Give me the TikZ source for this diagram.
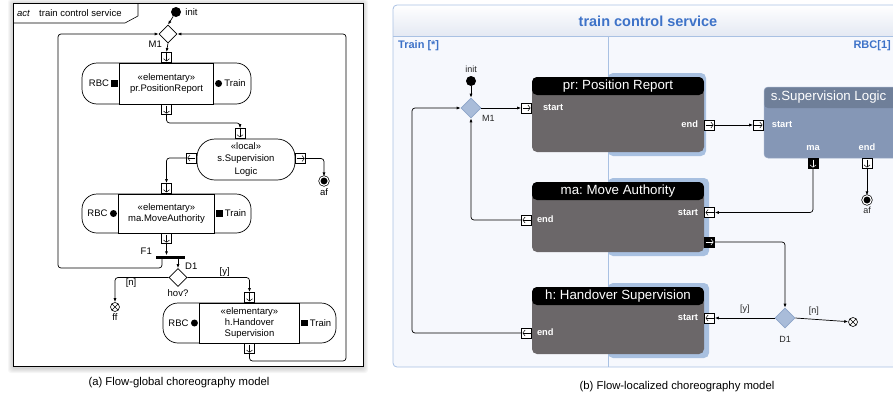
\documentclass[tikz,border=0pt]{standalone}
\usepackage{fontspec}
\setmainfont{Liberation Sans}
\frenchspacing
\usetikzlibrary{positioning,shapes.geometric,arrows.meta}

\definecolor{laneline}{HTML}{A9C1E3}
\definecolor{lanefill}{HTML}{F6F8FD}
\definecolor{titleband}{HTML}{E4E9F3}
\definecolor{titleblue}{HTML}{3D72C8}
\definecolor{boxgrey}{HTML}{6B6769}
\definecolor{hilite}{HTML}{A8C0E0}
\definecolor{localbody}{HTML}{8597B6}
\definecolor{localtitle}{HTML}{6F7F99}
\definecolor{localedge}{HTML}{9DADC8}
\definecolor{mergefill}{HTML}{A9BCD9}
\definecolor{mergedraw}{HTML}{8DA4C8}

\tikzset{
  txt/.style={font=\fontsize{9.5}{11.5}\selectfont, inner sep=1pt, align=center},
  lbl/.style={font=\fontsize{9}{10}\selectfont, inner sep=1pt, text=black!85},
  wlbl/.style={font=\bfseries\fontsize{9.3}{10}\selectfont, inner sep=1pt, text=white,
    text height=7pt, text depth=2pt},
  captxt/.style={font=\fontsize{11.3}{13}\selectfont, inner sep=0pt},
  flow/.style={draw, line width=0.7pt, rounded corners=3pt, -{Latex[length=4pt,width=3pt]}},
  pinhead/.style={-{Straight Barb[length=2.3pt,width=6pt]}, line width=0.5pt},
  pinbox/.style={draw, fill=white, line width=0.6pt, minimum width=10pt, minimum height=10pt, inner sep=0pt},
  pindown/.style={pinbox, path picture={\draw[pinhead, #1]
    ([yshift=-1pt]path picture bounding box.north) -- ([yshift=1pt]path picture bounding box.south);}},
  pindown/.default=black,
  pinright/.style={pinbox, path picture={\draw[pinhead, #1]
    ([xshift=1pt]path picture bounding box.west) -- ([xshift=-1pt]path picture bounding box.east);}},
  pinright/.default=black,
  pinleft/.style={pinbox, path picture={\draw[pinhead, #1]
    ([xshift=-1pt]path picture bounding box.east) -- ([xshift=1pt]path picture bounding box.west);}},
  pinleft/.default=black,
  sqpin/.style={fill=black, minimum size=6.5pt, inner sep=0pt},
  dotpin/.style={circle, fill=black, minimum size=7pt, inner sep=0pt},
  initnode/.style={circle, fill=black, minimum size=10pt, inner sep=0pt},
  finalnode/.style={circle, draw, line width=0.7pt, fill=black, double=white, double distance=1.2pt,
    minimum size=8.5pt, inner sep=0pt},
  flowfinal/.style={circle, draw, line width=0.6pt, fill=white, minimum size=9pt, inner sep=0pt,
    path picture={\draw[line width=0.6pt] (path picture bounding box.north west) -- (path picture bounding box.south east)
      (path picture bounding box.north east) -- (path picture bounding box.south west);}},
  gmerge/.style={diamond, draw, line width=0.7pt, fill=white, minimum size=18pt, inner sep=0pt},
  bmerge/.style={diamond, draw=mergedraw, line width=0.6pt, fill=mergefill, minimum size=20pt, inner sep=0pt},
  gaction/.style={draw, line width=0.7pt, fill=white, rounded corners=15pt},
  gcore/.style={txt, draw, line width=0.7pt, fill=white},
  gbar/.style={fill=black, minimum width=29pt, minimum height=3pt, inner sep=0pt},
  gbox/.style={rounded corners=5pt, fill=boxgrey, minimum width=172pt,
    path picture={\fill[black] (path picture bounding box.north west)
      rectangle ([yshift=-18pt]path picture bounding box.north east);}},
  gboxtitle/.style={font=\fontsize{13.3}{15}\selectfont, text=white, inner sep=0pt},
  sbox/.style={rounded corners=4pt, fill=localbody, draw=localedge, line width=0.5pt,
    minimum width=141pt, minimum height=71pt,
    path picture={\fill[localtitle] (path picture bounding box.north west)
      rectangle ([yshift=-21pt]path picture bounding box.north east);}},
  lanelbl/.style={font=\bfseries\fontsize{11}{12}\selectfont, text=titleblue, inner sep=0pt},
}

\begin{document}
\begin{tikzpicture}[x=1pt, y=-1pt]

    % Fix the page to the size of the reference and cut at its edges
    \useasboundingbox (0,0) rectangle (893,399);
    \clip (0,0) rectangle (893,399);

    %%%%%%%%%%%%%%%% (a) flow-global model %%%%%%%%%%%%%%%%

    % Soft shadow round the frame
    \foreach \g in {1,...,5}
        \fill[black, opacity=0.035, rounded corners=3pt] (13-\g,4-\g) rectangle (363+\g,368+\g);

    % Frame and its name tab
    \draw[line width=0.8pt, fill=white] (13,3) rectangle (363,366);
    \draw[line width=0.6pt] (13,23) -- (125,23) -- (138,16) -- (138,3);
    \node[txt, anchor=west] (ga-act) at (16,13) {\itshape act};
    \node[txt, anchor=west] (ga-name) at (38,13) {train control service};

    % Initial node and merge M1
    \node[initnode] (ga-init) at (176,12) {};
    \node[txt, right=3pt of ga-init] (ga-init-l) {init};
    \node[gmerge] (ga-m1) at (168,34) {};
    \node[txt, anchor=east] (ga-m1-l) at (163,44) {M1};

    % Action pr.PositionReport
    \node[gaction, minimum width=169pt, minimum height=41pt] (ga-pr-box) at (166.5,83.5) {};
    \node[gcore, minimum width=94pt, minimum height=41pt] (ga-pr) at (166.5,83.5) {«elementary»\\pr.PositionReport};
    \node[pindown, anchor=south] (ga-pr-in) at (ga-pr.north) {};
    \node[pindown, anchor=north] (ga-pr-out) at (ga-pr.south) {};
    \node[sqpin, anchor=east] (ga-pr-rbc) at ([xshift=-1pt]ga-pr.west) {};
    \node[txt, left=1pt of ga-pr-rbc] (ga-pr-rbc-l) {RBC};
    \node[dotpin, anchor=west] (ga-pr-trn) at ([xshift=1pt]ga-pr.east) {};
    \node[txt, right=1pt of ga-pr-trn] (ga-pr-trn-l) {Train};

    % Local action s.Supervision Logic
    \node[gaction, txt, rounded corners=18pt, minimum width=98pt, minimum height=41pt,
        font=\fontsize{9.5}{12.5}\selectfont] (ga-s) at (246,159.5) {«local»\\s.Supervision\\Logic};
    \node[pindown, anchor=south] (ga-s-in) at ([xshift=-6pt]ga-s.north) {};
    \node[pinleft, anchor=east] (ga-s-l) at ([yshift=1.5pt]ga-s.west) {};
    \node[pinright, anchor=west] (ga-s-r) at ([yshift=1pt]ga-s.east) {};

    % Final node af
    \node[finalnode] (ga-af) at (324,181) {};
    \node[txt, below=2pt of ga-af] (ga-af-l) {af};

    % Action ma.MoveAuthority
    \node[gaction, minimum width=169pt, minimum height=39pt] (ga-ma-box) at (166.5,213.5) {};
    \node[gcore, minimum width=96pt, minimum height=39pt] (ga-ma) at (166.5,213.5) {«elementary»\\ma.MoveAuthority};
    \node[pindown, anchor=south] (ga-ma-in) at (ga-ma.north) {};
    \node[pindown, anchor=north] (ga-ma-out) at (ga-ma.south) {};
    \node[dotpin, anchor=east] (ga-ma-rbc) at ([xshift=-1pt]ga-ma.west) {};
    \node[txt, left=1pt of ga-ma-rbc] (ga-ma-rbc-l) {RBC};
    \node[sqpin, anchor=west] (ga-ma-trn) at ([xshift=1pt]ga-ma.east) {};
    \node[txt, right=1pt of ga-ma-trn] (ga-ma-trn-l) {Train};

    % Fork F1, decision D1 and flow final ff
    \node[gbar] (ga-f1) at (170.5,257) {};
    \node[txt, anchor=east] (ga-f1-l) at (153,251) {F1};
    \node[gmerge] (ga-d1) at (178,277.5) {};
    \node[txt, anchor=west] (ga-d1-l) at (184,266) {D1};
    \node[txt] (ga-hov) at (178,293) {hov?};
    \node[flowfinal] (ga-ff) at (115,307) {};
    \node[txt, below=1pt of ga-ff] (ga-ff-l) {ff};

    % Action h.HandoverSupervision
    \node[gaction, minimum width=173pt, minimum height=40pt] (ga-h-box) at (249.5,323) {};
    \node[gcore, minimum width=100pt, minimum height=40pt, font=\fontsize{9.5}{11}\selectfont] (ga-h) at (249.5,323) {«elementary»\\h.Handover\\Supervision};
    \node[pindown, anchor=south] (ga-h-in) at (ga-h.north) {};
    \node[pindown, anchor=north] (ga-h-out) at (ga-h.south) {};
    \node[dotpin, anchor=east] (ga-h-rbc) at ([xshift=-1pt]ga-h.west) {};
    \node[txt, left=1pt of ga-h-rbc] (ga-h-rbc-l) {RBC};
    \node[sqpin, anchor=west] (ga-h-trn) at ([xshift=1pt]ga-h.east) {};
    \node[txt, right=1pt of ga-h-trn] (ga-h-trn-l) {Train};

    % Corners of the two loops back to M1
    \coordinate (ga-loop-l) at (58,268);
    \coordinate (ga-loop-r) at (346,361);

    % Control flows
    \draw[flow] (ga-init) -- (ga-m1.north);
    \draw[flow] (ga-m1.south) -- (ga-pr-in.north);
    \draw[flow] (ga-pr-out.south) -- ++(0,8) -| (ga-s-in.north);
    \draw[flow] (ga-s-l.west) -| (ga-ma-in.north);
    \draw[flow] (ga-s-r.east) -| (ga-af.north);
    \draw[flow] (ga-ma-out.south) -- (ga-ma-out.south |- ga-f1.north);
    \draw[flow] (ga-f1.south -| ga-d1.north) -- (ga-d1.north);
    \draw[flow] ([xshift=-8.5pt]ga-f1.south) |- (ga-loop-l) |- (ga-m1.west);
    \draw[flow] (ga-h-out.south) |- (ga-loop-r) |- (ga-m1.east);
    \draw[flow] (ga-d1.west) -| node[txt, pos=0.35, below] (ga-n) {[n]} (ga-ff.north);
    \draw[flow] (ga-d1.east) -| node[txt, pos=0.3, above] (ga-y) {[y]} (ga-h-in.north);

    % Caption
    \node[captxt] (cap-a) at (179,383) {(a) Flow-global choreography model};

    %%%%%%%%%%%%%%%% (b) flow-localized model %%%%%%%%%%%%%%%%

    % Background, title band and lanes
    \fill[lanefill, rounded corners=4pt] (393,5) rectangle (905,367);
    \begin{scope}
        \clip[rounded corners=4pt] (393,5) rectangle (905,367);
        \shade[top color=white, bottom color=titleband] (393,5) rectangle (905,36);
    \end{scope}
    \draw[laneline, line width=0.8pt, rounded corners=4pt] (393,5) rectangle (905,367);
    \draw[laneline, line width=0.8pt] (393,36) -- (905,36);
    \draw[laneline, line width=0.8pt] (608,36) -- (608,367);
    \node[font=\bfseries\fontsize{14.5}{16}\selectfont, text=titleblue] (gb-title) at (648,21) {train control service};
    \node[lanelbl, anchor=west] (gb-lane-t) at (398,46) {Train [*]};
    \node[lanelbl, anchor=east] (gb-lane-r) at (891,46) {RBC[1]};

    % Blue marks on the parts of the boxes in the RBC lane
    \fill[hilite, rounded corners=5pt] (608,73) rectangle (706,156);
    \fill[hilite, rounded corners=5pt] (608,178) rectangle (709,256);
    \fill[hilite, rounded corners=5pt] (608,283) rectangle (709,358);

    % Initial node and merge M1
    \node[initnode] (gb-init) at (471,81) {};
    \node[lbl, above=2pt of gb-init] (gb-init-l) {init};
    \node[bmerge] (gb-m1) at (471,108) {};
    \node[lbl, anchor=west] (gb-m1-l) at (481,118) {M1};

    % pr: Position Report
    \node[gbox, minimum height=75pt] (gb-pr) at (618,114.5) {};
    \node[gboxtitle] (gb-pr-t) at ([yshift=-9pt]gb-pr.north) {pr: Position Report};
    \node[pinright, anchor=east] (gb-pr-start) at (gb-pr.west |- gb-m1) {};
    \node[wlbl, anchor=west] (gb-pr-start-l) at ([xshift=10pt]gb-pr-start.east) {start};
    \node[pinright, anchor=west] (gb-pr-end) at ([yshift=-10.5pt]gb-pr.east) {};
    \node[wlbl, anchor=east] (gb-pr-end-l) at ([xshift=-5pt]gb-pr-end.west) {end};

    % s.Supervision Logic
    \node[sbox] (gb-s) at (834.5,122.5) {};
    \node[gboxtitle, anchor=west] (gb-s-t) at ([xshift=7pt, yshift=-10.5pt]gb-s.north west) {s.Supervision Logic};
    \node[pinright, anchor=east] (gb-s-start) at (gb-s.west |- gb-pr-end) {};
    \node[wlbl, anchor=west] (gb-s-start-l) at ([xshift=7pt]gb-s-start.east) {start};
    \node[pindown=white, fill=black, anchor=north] (gb-s-ma) at ([xshift=-21.5pt]gb-s.south) {};
    \node[pindown, anchor=north] (gb-s-end) at ([xshift=32.5pt]gb-s.south) {};
    \node[wlbl, above=5pt of gb-s-ma] (gb-s-ma-l) {ma};
    \node[wlbl, above=5pt of gb-s-end] (gb-s-end-l) {end};

    % Final node af
    \node[finalnode] (gb-af) at (867,200) {};
    \node[lbl, below=1pt of gb-af] (gb-af-l) {af};

    % ma: Move Authority
    \node[gbox, minimum height=70pt] (gb-ma) at (618,217) {};
    \node[gboxtitle] (gb-ma-t) at ([yshift=-9pt]gb-ma.north) {ma: Move Authority};
    \node[pinleft, anchor=west] (gb-ma-start) at ([yshift=4.5pt]gb-ma.east) {};
    \node[wlbl, anchor=east] (gb-ma-start-l) at ([xshift=-5pt]gb-ma-start.west) {start};
    \node[pinleft, anchor=east] (gb-ma-end) at ([yshift=-3pt]gb-ma.west) {};
    \node[wlbl, anchor=west] (gb-ma-end-l) at ([xshift=4pt]gb-ma-end.east) {end};
    \node[pinright=white, fill=black, anchor=west] (gb-ma-out) at ([yshift=-25pt]gb-ma.east) {};

    % Decision D1 and flow final ff
    \node[bmerge] (gb-d1) at (785,318) {};
    \node[lbl, below=7pt of gb-d1] (gb-d1-l) {D1};
    \node[flowfinal] (gb-ff) at (853,322) {};

    % h: Handover Supervision
    \node[gbox, minimum height=67pt] (gb-h) at (618,320.5) {};
    \node[gboxtitle] (gb-h-t) at ([yshift=-9pt]gb-h.north) {h: Handover Supervision};
    \node[pinleft, anchor=west] (gb-h-start) at (gb-h.east |- gb-d1) {};
    \node[wlbl, anchor=east] (gb-h-start-l) at ([xshift=-5pt]gb-h-start.west) {start};
    \node[pinleft, anchor=east] (gb-h-end) at ([yshift=-12.5pt]gb-h.west) {};
    \node[wlbl, anchor=west] (gb-h-end-l) at ([xshift=4pt]gb-h-end.east) {end};

    % Corner of the outer loop back to M1
    \coordinate (gb-loop) at (412,108);

    % Control flows
    \draw[flow] (gb-init) -- (gb-m1.north);
    \draw[flow] (gb-m1.east) -- (gb-pr-start.west);
    \draw[flow] (gb-pr-end.east) -- (gb-s-start.west);
    \draw[flow] (gb-s-end.south) -- (gb-af.north);
    \draw[flow] (gb-s-ma.south) |- (gb-ma-start.east);
    \draw[flow] (gb-ma-end.west) -| (gb-m1.south);
    \draw[flow] (gb-ma-out.east) -| (gb-d1.north);
    \draw[flow] (gb-d1.west) -- node[lbl, above=3pt] (gb-y) {[y]} (gb-h-start.east);
    \draw[flow] (gb-d1.east) -- node[lbl, pos=0.35, above=3pt] (gb-n) {[n]} (gb-ff);
    \draw[flow] (gb-h-end.west) -| (gb-loop) -- (gb-m1.west);

    % Caption
    \node[captxt] (cap-b) at (677,387) {(b) Flow-localized choreography model};

\end{tikzpicture}
\end{document}
